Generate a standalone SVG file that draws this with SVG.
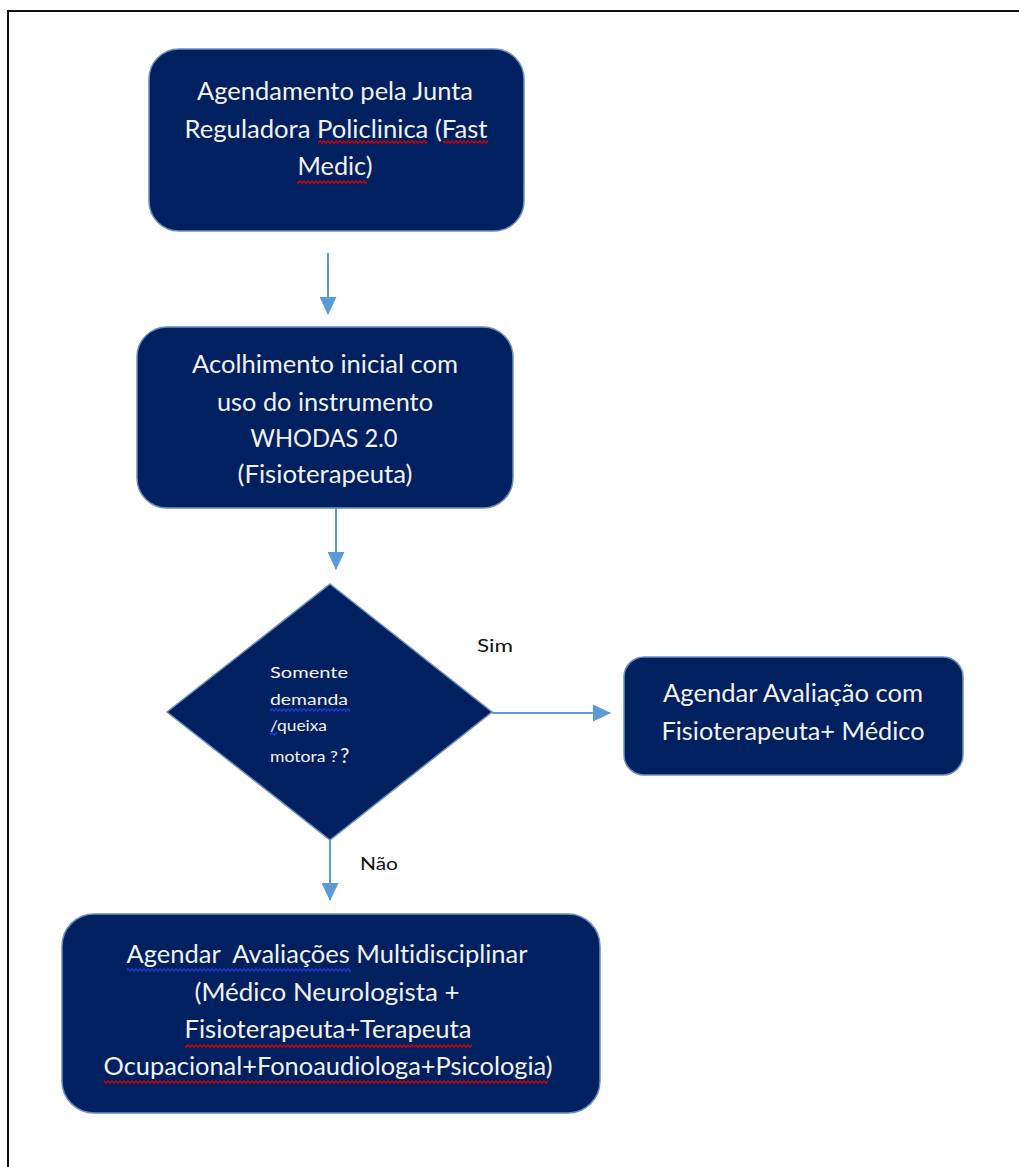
<svg xmlns="http://www.w3.org/2000/svg" width="1019" height="1167" viewBox="0 0 1019 1167">
<style>
.box{fill:#002060;stroke:#6C8EBF;stroke-width:1.5}
.t{font-family:Lato,"Open Sans","Liberation Sans",sans-serif;fill:#F2F2F2;font-size:25px;text-anchor:middle;white-space:pre;font-variant-ligatures:none}
.d{font-family:Lato,"Open Sans","Liberation Sans",sans-serif;fill:#F2F2F2;font-size:15px}
.q{font-family:Lato,"Open Sans","Liberation Sans",sans-serif;fill:#F2F2F2;font-size:21px}
.lbl{font-family:Lato,"Open Sans","Liberation Sans",sans-serif;fill:#111;font-size:18px}
.conn{stroke:#5B9BD5;stroke-width:2;fill:none}
.wr{fill:url(#waveRed)}
.wb{fill:url(#waveBlue)}
</style>
<defs>
<marker id="arrL" markerWidth="18" markerHeight="17" refX="17" refY="8.5" orient="auto" markerUnits="userSpaceOnUse" viewBox="0 0 18 17">
<path d="M0,0 L18,8.5 L0,17 Z" fill="#5B9BD5"/>
</marker>
<pattern id="waveRed" x="0" y="0" width="4" height="4" patternUnits="userSpaceOnUse">
<path d="M-2,3.2 L0,0.8 L2,3.2 L4,0.8 L6,3.2" stroke="#E00000" stroke-width="1.2" fill="none"/>
</pattern>
<pattern id="waveBlue" x="0" y="0" width="4" height="4" patternUnits="userSpaceOnUse">
<path d="M-2,3.2 L0,0.8 L2,3.2 L4,0.8 L6,3.2" stroke="#1C3FE0" stroke-width="1.2" fill="none"/>
</pattern>
</defs>
<rect width="1019" height="1167" fill="#fff"/>
<path d="M8,1167 L8,11 L1019,11" stroke="#111" stroke-width="2" fill="none"/>

<g id="connectors">
<line class="conn" x1="328" y1="253" x2="328" y2="314" marker-end="url(#arrL)"/>
<line class="conn" x1="336" y1="508" x2="336" y2="569" marker-end="url(#arrL)"/>
<line class="conn" x1="492" y1="713" x2="610" y2="713" marker-end="url(#arrL)"/>
<line class="conn" x1="330" y1="840" x2="330" y2="900" marker-end="url(#arrL)"/>
<text class="lbl" x="477" y="652" textLength="36" lengthAdjust="spacingAndGlyphs">Sim</text>
<text class="lbl" x="360" y="870" textLength="38" lengthAdjust="spacingAndGlyphs">Não</text>
</g>

<g id="node-agendamento">
<rect class="box" x="149" y="49" width="375" height="182" rx="30"/>
<text class="t" x="335" y="100" textLength="276" lengthAdjust="spacingAndGlyphs">Agendamento pela Junta</text>
<text class="t" x="336" y="138" textLength="303" lengthAdjust="spacingAndGlyphs">Reguladora Policlinica (Fast</text>
<text class="t" x="335" y="175" textLength="75" lengthAdjust="spacingAndGlyphs">Medic)</text>
<rect class="wr" x="318" y="140" width="109" height="4"/>
<rect class="wr" x="443" y="140" width="45" height="4"/>
<rect class="wr" x="297" y="180" width="70" height="4"/>
</g>

<g id="node-acolhimento">
<rect class="box" x="137" y="327" width="376" height="181" rx="30"/>
<text class="t" x="325" y="373" textLength="266" lengthAdjust="spacingAndGlyphs">Acolhimento inicial com</text>
<text class="t" x="325" y="411" textLength="216" lengthAdjust="spacingAndGlyphs">uso do instrumento</text>
<text class="t" x="324" y="447" textLength="147" lengthAdjust="spacingAndGlyphs">WHODAS 2.0</text>
<text class="t" x="325" y="483" textLength="175" lengthAdjust="spacingAndGlyphs">(Fisioterapeuta)</text>
</g>

<g id="node-decisao">
<polygon class="box" points="330,584 492,712 330,840 167,712"/>
<text class="d" x="270" y="678" textLength="78" lengthAdjust="spacingAndGlyphs">Somente</text>
<text class="d" x="270" y="705" textLength="78" lengthAdjust="spacingAndGlyphs">demanda</text>
<text class="d" x="270" y="731" textLength="57" lengthAdjust="spacingAndGlyphs">/queixa</text>
<text class="d" x="270" y="762" textLength="68" lengthAdjust="spacingAndGlyphs">motora ?</text>
<text class="q" x="340" y="763">?</text>
<rect class="wb" x="270" y="708" width="80" height="4"/>
<rect class="wb" x="270" y="732" width="7" height="4"/>
</g>

<g id="node-fisio-medico">
<rect class="box" x="624" y="657" width="339" height="118" rx="20"/>
<text class="t" x="793" y="702" textLength="260" lengthAdjust="spacingAndGlyphs">Agendar Avaliação com</text>
<text class="t" x="793" y="740" textLength="263" lengthAdjust="spacingAndGlyphs">Fisioterapeuta+ Médico</text>
</g>

<g id="node-multidisciplinar">
<rect class="box" x="62" y="914" width="538" height="199" rx="32"/>
<text class="t" x="327" y="963" textLength="401" lengthAdjust="spacingAndGlyphs">Agendar  Avaliações Multidisciplinar</text>
<text class="t" x="327" y="1001" textLength="265" lengthAdjust="spacingAndGlyphs">(Médico Neurologista +</text>
<text class="t" x="328" y="1038" textLength="287" lengthAdjust="spacingAndGlyphs">Fisioterapeuta+Terapeuta</text>
<text class="t" x="328" y="1075" textLength="449" lengthAdjust="spacingAndGlyphs">Ocupacional+Fonoaudiologa+Psicologia)</text>
<rect class="wb" x="127" y="968" width="224" height="4"/>
<rect class="wr" x="185" y="1044" width="287" height="4"/>
<rect class="wr" x="104" y="1080" width="444" height="4"/>
</g>
</svg>
